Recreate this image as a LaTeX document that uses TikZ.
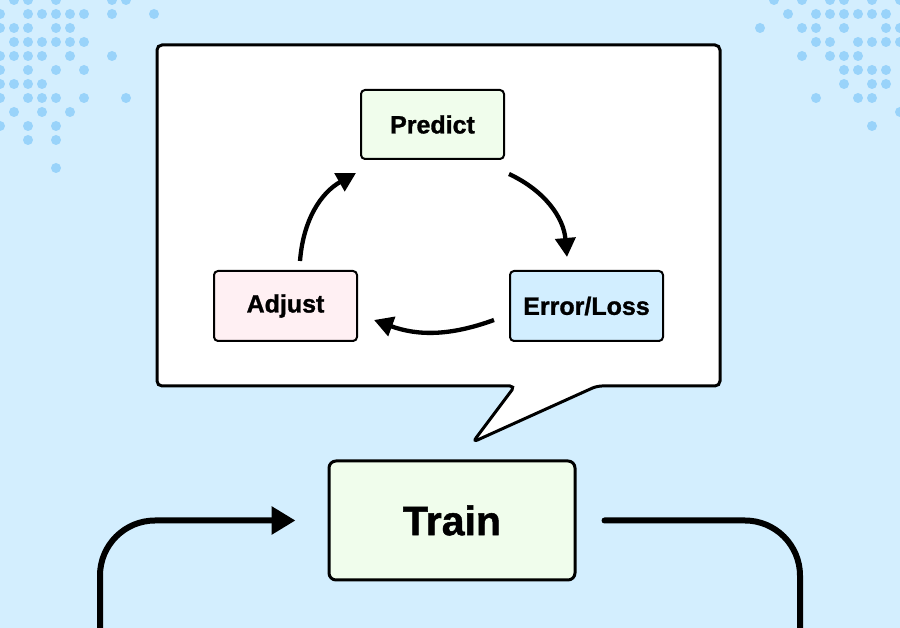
\documentclass[tikz,border=0pt]{standalone}
\usepackage{fontspec}
\setmainfont{Liberation Sans}[BoldFeatures={FakeBold=1.2}]
\usepackage{xcolor}
\usetikzlibrary{arrows.meta,positioning}

\definecolor{skybg}{RGB}{211,238,254}
\definecolor{dotblue}{RGB}{153,211,250}
\definecolor{mintfill}{RGB}{240,253,236}
\definecolor{rosefill}{RGB}{255,240,243}
\definecolor{icefill}{RGB}{210,238,255}

\begin{document}
\begin{tikzpicture}[
  x=1pt, y=1pt,
  every node/.style={font=\bfseries\fontsize{25}{30}\selectfont},
  cyclebox/.style={draw, rounded corners=4pt, line width=2pt, inner sep=0pt,
    minimum width=143pt, minimum height=69pt},
  dot/.style={fill=dotblue},
  loop/.style={-{Triangle[length=19pt,width=20pt]}, line width=4.3pt},
  flow/.style={line width=6pt, rounded corners=55pt}
]
\useasboundingbox (0,0) rectangle (900,628);
\fill[skybg] (0,0) rectangle (900,628);

% dot pattern, top left and top right
\foreach \y/\xs in {0/{14,28,56,112,126}, 14/{0,28,42,56,70,84,112,154},
    28/{0,14,28,56,70}, 42/{14,28,42,56,70,84}, 56/{0,14,28,42,70,112},
    70/{0,28,56,84}, 84/{0,14,28,42}, 98/{0,28,42,56,84,126},
    112/{14,42,70}, 126/{0,28,56}, 140/{28,56}, 168/{56}}
  \foreach \x in \xs \fill[dot] (\x,628-\y) circle (5);
\foreach \y/\xs in {0/{774,802,830,844,872,900}, 14/{788,816,830,844,858,872,886},
    28/{760,802,816,844,886,900}, 42/{816,830,858,872,886,900},
    56/{802,830,844,858}, 70/{844,858,872,886}, 84/{844,872,886},
    98/{816,858,872}, 112/{900}, 126/{872}}
  \foreach \x in \xs \fill[dot] (\x,628-\y) circle (5);

% speech bubble
\draw[line width=3pt, fill=white, rounded corners=5pt]
  (157,583) -- (720,583) -- (720,242) -- (597,242) -- (473,186)
  -- (515,242) -- (157,242) -- cycle;

% training loop
\node[cyclebox, fill=mintfill] (predict) at (432.5,503.5) {Predict};
\node[cyclebox, fill=icefill, minimum width=153pt, minimum height=70pt] (error) at (586.5,322) {Error/Loss};
\node[cyclebox, fill=rosefill, minimum height=70pt] (adjust) at (285.5,322) {Adjust};

\draw[loop] ([shift={(4,-14)}]predict.south east) to[bend left=30] ([shift={(-19.5,13)}]error.north);
\draw[loop] ([shift={(-15,-14)}]error.west) to[bend left=20] ([shift={(16,-14)}]adjust.east);
\draw[loop] ([shift={(14.5,9)}]adjust.north) to[bend left=28] ([shift={(-4,-13)}]predict.south west);

% train step
\node[draw, line width=3pt, rounded corners=7pt, fill=mintfill,
  minimum width=246pt, minimum height=119pt,
  font=\bfseries\fontsize{41}{48}\selectfont] (train) at (452,107.5) {Train};

\coordinate (inL) at (100,-10);
\coordinate (outR) at (800,-10);
\draw[flow, -{Triangle[length=24pt,width=27pt]}] (inL) |- ([xshift=-32pt]train.west);
\draw[flow, line cap=round] ([xshift=28pt]train.east) -| (outR);
\end{tikzpicture}
\end{document}
